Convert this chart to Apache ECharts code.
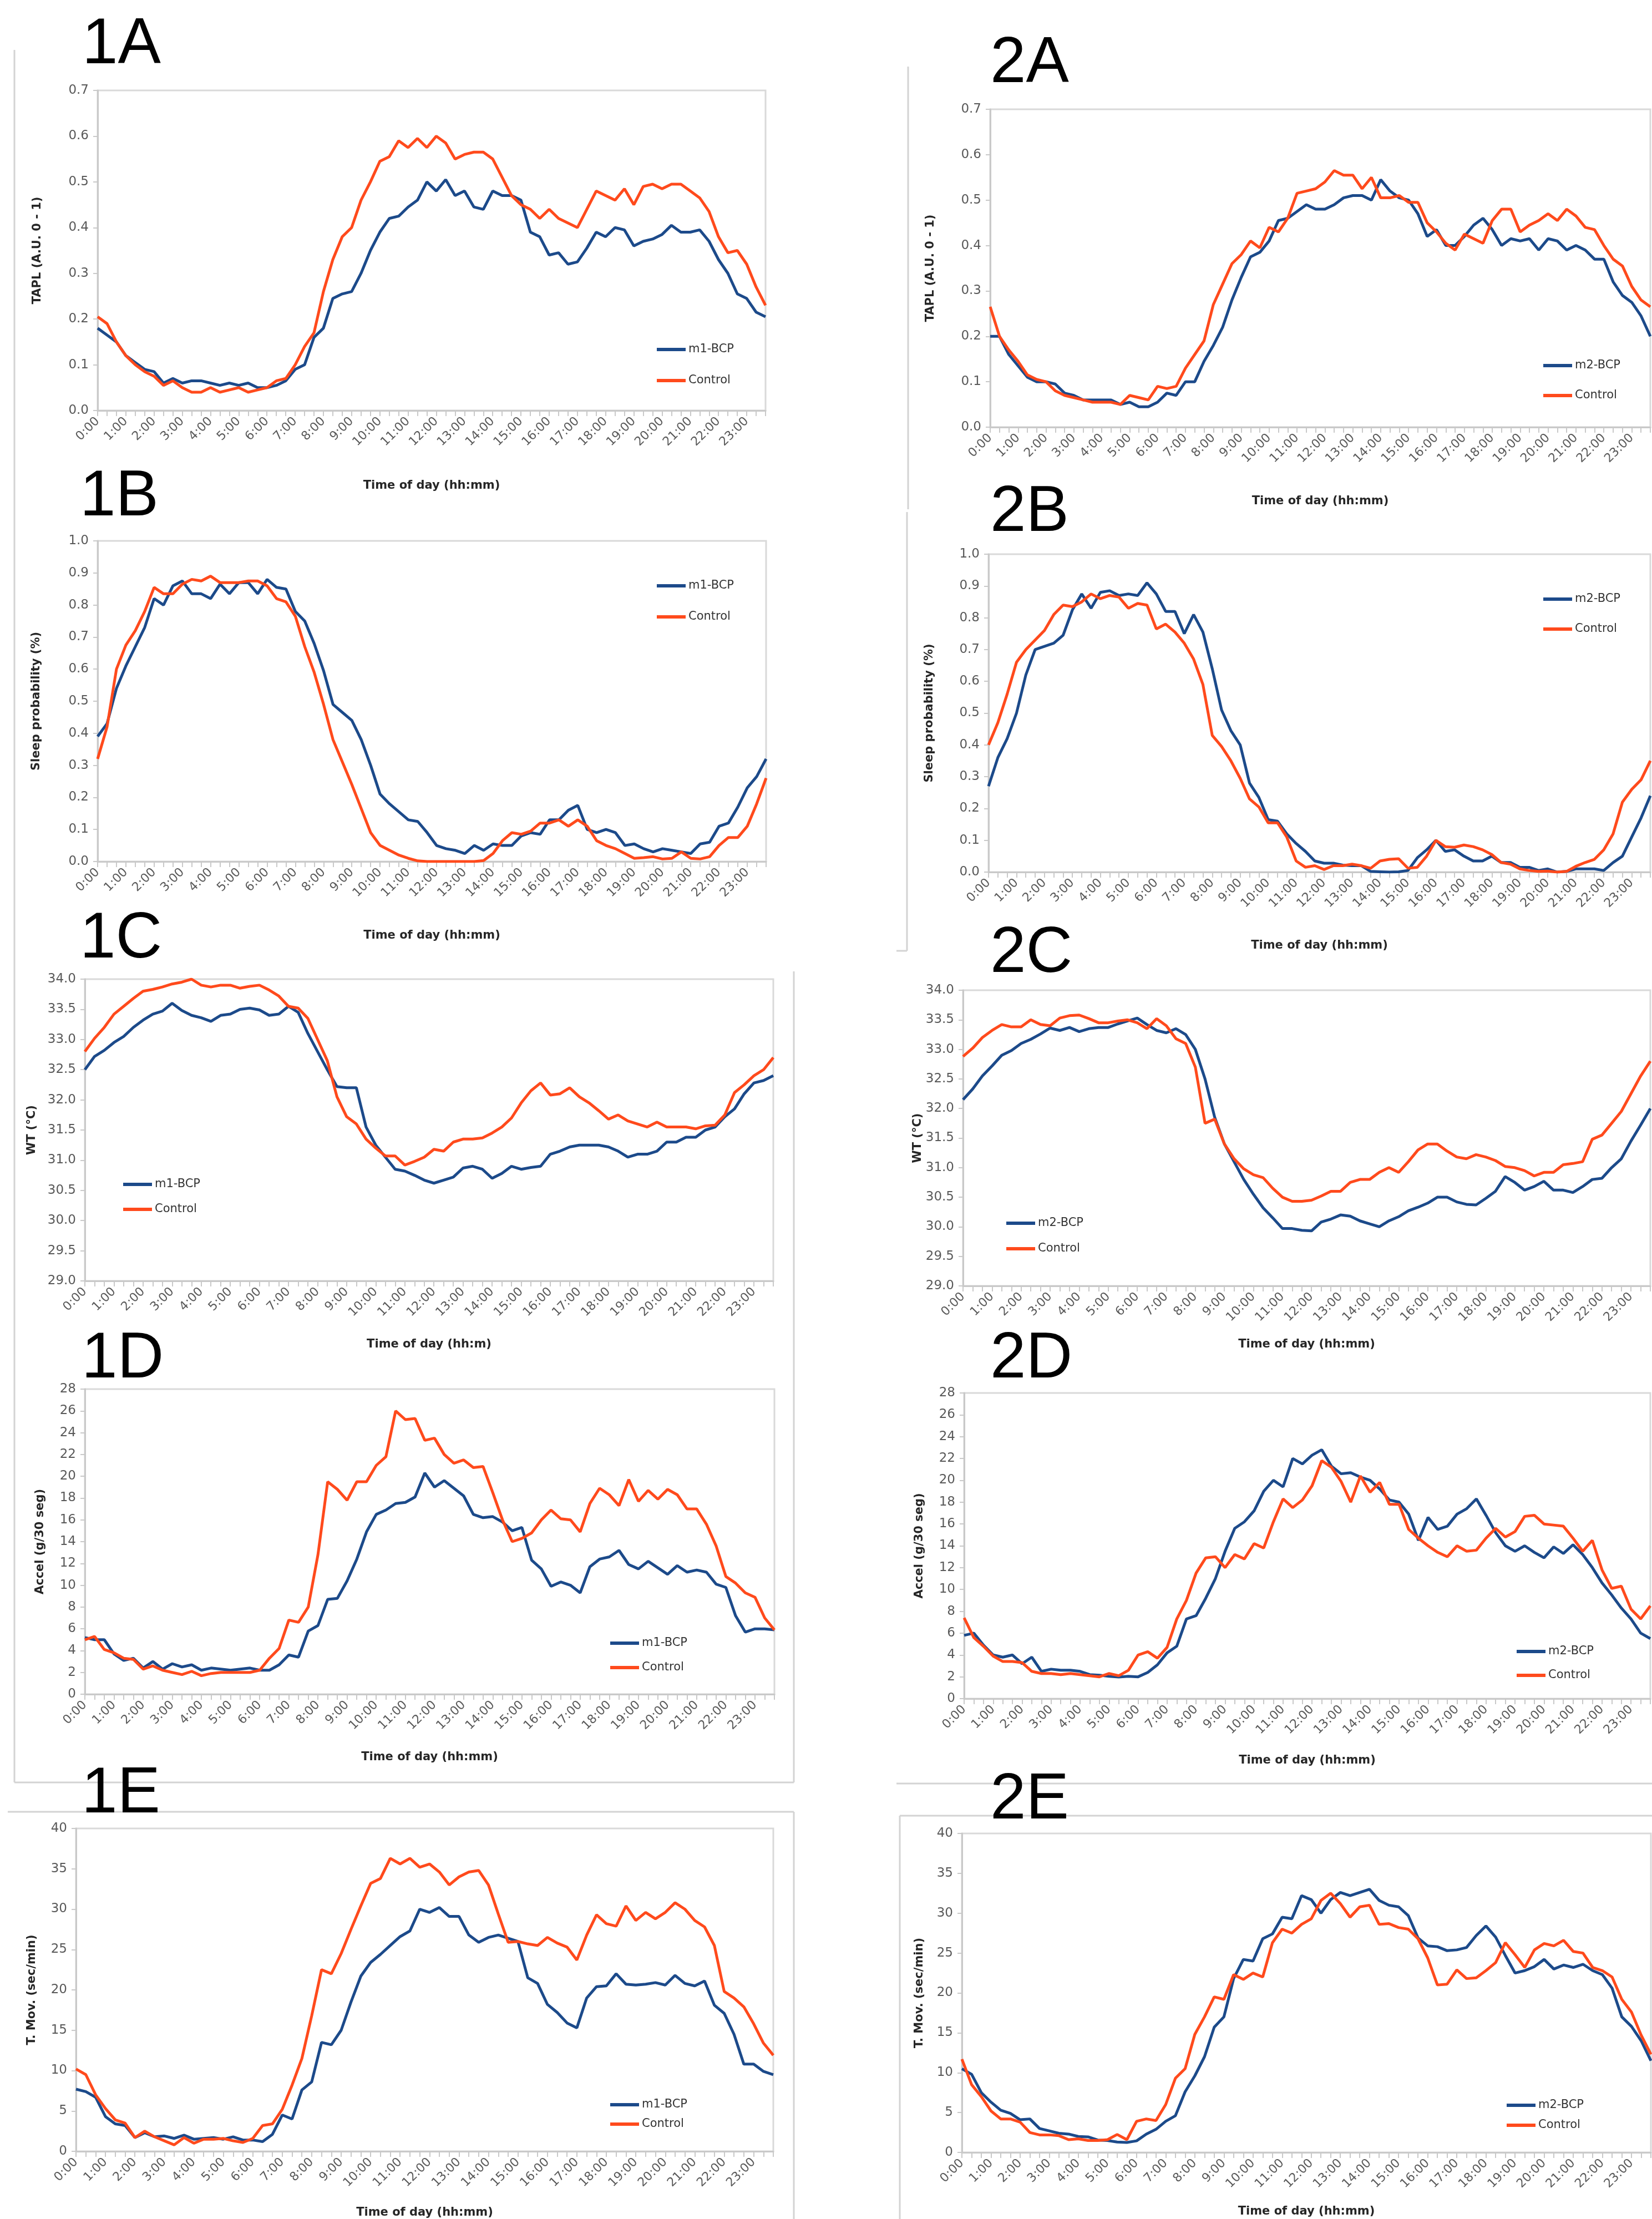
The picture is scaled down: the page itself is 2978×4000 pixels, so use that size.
<!DOCTYPE html>
<html>
<head>
<meta charset="utf-8">
<script src="https://cdn.jsdelivr.net/npm/echarts@6/dist/echarts.min.js"></script>
<style>
html,body{margin:0;padding:0;background:#fff;overflow:hidden;}
#main{width:2978px;height:4000px;}
</style>
</head>
<body>
<div id="main"></div>
<script>
// ---------- categories (20-min steps) ----------
const TIMES = ['0:00','0:20','0:40','1:00','1:20','1:40','2:00','2:20','2:40','3:00','3:20','3:40',
'4:00','4:20','4:40','5:00','5:20','5:40','6:00','6:20','6:40','7:00','7:20','7:40',
'8:00','8:20','8:40','9:00','9:20','9:40','10:00','10:20','10:40','11:00','11:20','11:40',
'12:00','12:20','12:40','13:00','13:20','13:40','14:00','14:20','14:40','15:00','15:20','15:40',
'16:00','16:20','16:40','17:00','17:20','17:40','18:00','18:20','18:40','19:00','19:20','19:40',
'20:00','20:20','20:40','21:00','21:20','21:40','22:00','22:20','22:40','23:00','23:20','23:40'];

// ---------- 1A / 2A : TAPL ----------
const tapl_m1 = [0.18,0.165,0.15,0.12,0.105,0.09,0.085,0.06,0.07,0.06,0.065,0.065,0.06,0.055,0.06,0.055,0.06,0.05,0.05,0.055,0.065,0.09,0.10,0.16,0.18,0.245,0.255,0.26,0.30,0.35,0.39,0.42,0.425,
0.445,0.46,0.50,0.48,0.505,0.47,0.48,0.445,0.44,0.48,0.47,0.47,0.46,0.39,0.38,0.34,0.345,0.32,0.325,0.355,0.39,0.38,0.40,0.395,0.36,0.37,0.375,0.385,0.405,0.39,0.39,0.395,0.37,0.33,0.30,0.255,0.245,0.215,0.205];
const tapl_ctrl1 = [0.205,0.19,0.15,0.12,0.10,0.085,0.075,0.055,0.065,0.05,0.04,0.04,0.05,0.04,0.045,0.05,0.04,0.045,0.05,0.065,0.07,0.10,0.14,0.17,0.26,
0.33,0.38,0.40,0.46,0.50,0.545,0.555,0.59,0.575,0.595,0.575,0.60,0.585,0.55,0.56,0.565,0.565,0.55,0.51,0.47,0.45,0.44,0.42,0.44,0.42,0.41,0.40,0.44,0.48,0.47,0.46,0.485,0.45,0.49,0.495,0.485,0.495,0.495,0.48,0.465,0.435,0.38,0.345,0.35,0.32,0.27,0.23];
const tapl_m2 = [0.20,0.20,0.16,0.135,0.11,0.10,0.10,0.095,0.075,0.07,0.06,0.06,0.06,0.06,0.05,0.055,0.045,0.045,0.055,0.075,
0.07,0.10,0.10,0.145,0.18,0.22,0.28,0.33,0.375,0.385,0.41,0.455,0.46,0.475,0.49,0.48,0.48,0.49,0.505,0.51,
0.51,0.50,0.545,0.52,0.505,0.50,0.47,0.42,0.435,0.40,0.40,0.42,0.445,0.46,0.435,0.40,0.415,0.41,0.415,0.39,
0.415,0.41,0.39,0.40,0.39,0.37,0.37,0.32,0.29,0.275,0.245,0.20];
const tapl_ctrl2 = [0.265,0.20,0.17,0.145,0.115,0.105,0.10,0.08,0.07,0.065,0.06,0.055,0.055,0.055,0.05,0.07,0.065,0.06,0.09,0.085,
0.09,0.13,0.16,0.19,0.27,0.315,0.36,0.38,0.41,0.395,0.44,0.43,0.46,0.515,0.52,0.525,0.54,0.565,0.555,0.555,
0.525,0.55,0.505,0.505,0.51,0.495,0.495,0.45,0.43,0.405,0.39,0.425,0.415,0.405,0.455,0.48,0.48,0.43,0.445,0.455,
0.47,0.455,0.48,0.465,0.44,0.435,0.40,0.37,0.355,0.31,0.28,0.265];

// ---------- 1B / 2B : sleep probability ----------
const sleep_m1 = [0.39,0.43,0.54,0.61,0.67,0.73,0.82,0.80,0.86,0.875,0.835,0.835,0.82,0.865,0.835,0.87,0.87,0.835,0.88,0.855,
0.85,0.78,0.75,0.68,0.595,0.49,0.465,0.44,0.38,0.30,0.21,0.18,0.155,0.13,0.125,0.09,0.05,0.04,0.035,0.025,
0.05,0.035,0.055,0.05,0.05,0.08,0.09,0.085,0.13,0.13,0.16,0.175,0.10,0.09,0.10,0.09,0.05,0.055,0.04,0.03,
0.04,0.035,0.03,0.025,0.055,0.06,0.11,0.12,0.17,0.23,0.265,0.32];
const sleep_ctrl1 = [0.32,0.42,0.60,0.675,0.72,0.78,0.855,0.835,0.835,0.865,0.88,0.875,0.89,0.87,0.87,0.87,0.875,0.875,0.86,0.82,
0.81,0.765,0.67,0.59,0.49,0.38,0.31,0.24,0.165,0.09,0.05,0.035,0.02,0.01,0.002,0,0,0,0,0,
0,0.003,0.025,0.065,0.09,0.085,0.095,0.12,0.12,0.13,0.11,0.13,0.11,0.065,0.05,0.04,0.025,0.01,0.012,0.015,
0.008,0.01,0.03,0.01,0.008,0.015,0.05,0.075,0.075,0.11,0.18,0.26];
const sleep_m2 = [0.27,0.36,0.42,0.50,0.62,0.70,0.71,0.72,0.745,0.825,0.875,0.83,0.88,0.885,0.87,0.875,0.87,0.91,0.875,0.82,
0.82,0.75,0.81,0.755,0.64,0.51,0.445,0.40,0.28,0.235,0.165,0.16,0.12,0.09,0.065,0.035,0.028,0.028,0.022,0.02,
0.02,0.002,0.001,0,0.001,0.005,0.045,0.07,0.10,0.065,0.07,0.05,0.035,0.035,0.05,0.03,0.03,0.015,0.015,0.005,
0.01,0,0.002,0.01,0.01,0.01,0.005,0.03,0.05,0.11,0.17,0.24];
const sleep_ctrl2 = [0.40,0.47,0.56,0.66,0.70,0.73,0.76,0.81,0.84,0.835,0.85,0.875,0.86,0.87,0.865,0.83,0.845,0.84,0.765,0.78,
0.755,0.72,0.67,0.59,0.43,0.395,0.35,0.295,0.23,0.205,0.155,0.155,0.11,0.035,0.015,0.02,0.008,0.02,0.02,0.025,
0.02,0.012,0.035,0.04,0.042,0.012,0.015,0.05,0.10,0.08,0.078,0.085,0.08,0.07,0.055,0.03,0.025,0.01,0.005,0.002,
0.003,0,0.002,0.018,0.03,0.04,0.07,0.12,0.22,0.26,0.29,0.35];

// ---------- 1C / 2C : wrist temperature ----------
const wt_m1 = [32.5,32.72,32.82,32.95,33.05,33.2,33.32,33.42,33.47,33.6,33.48,33.4,33.36,33.3,33.4,33.42,33.5,33.52,33.49,33.4,
33.42,33.55,33.45,33.1,32.8,32.5,32.22,32.2,32.2,31.55,31.25,31.05,30.85,30.82,30.75,30.67,30.62,30.67,30.72,30.87,
30.9,30.85,30.7,30.78,30.9,30.85,30.88,30.9,31.1,31.15,31.22,31.25,31.25,31.25,31.22,31.15,31.05,31.1,31.1,31.15,
31.3,31.3,31.38,31.38,31.5,31.55,31.72,31.85,32.1,32.28,32.32,32.4];
const wt_ctrl1 = [32.8,33.02,33.2,33.42,33.55,33.68,33.8,33.83,33.87,33.92,33.95,34.0,33.9,33.87,33.9,33.9,33.85,33.88,33.9,33.82,
33.72,33.55,33.52,33.35,33.0,32.65,32.05,31.72,31.6,31.35,31.2,31.07,31.07,30.92,30.98,31.05,31.18,31.15,31.3,31.35,
31.35,31.37,31.45,31.55,31.7,31.95,32.15,32.28,32.08,32.1,32.2,32.05,31.95,31.82,31.68,31.75,31.65,31.6,31.55,31.63,
31.55,31.55,31.55,31.52,31.57,31.58,31.75,32.12,32.25,32.4,32.5,32.7];
const wt_m2 = [32.15,32.33,32.55,32.72,32.9,32.98,33.1,33.17,33.26,33.36,33.32,33.37,33.3,33.35,33.37,33.37,33.43,33.48,33.53,33.42,
33.32,33.28,33.35,33.25,33.0,32.5,31.85,31.4,31.1,30.8,30.55,30.32,30.15,29.97,29.97,29.94,29.93,30.08,30.13,30.2,
30.18,30.1,30.05,30.0,30.1,30.17,30.27,30.33,30.4,30.5,30.5,30.42,30.38,30.37,30.48,30.6,30.85,30.75,30.62,30.68,
30.77,30.62,30.62,30.58,30.68,30.8,30.82,31.0,31.15,31.45,31.72,32.0];
const wt_ctrl2 = [32.88,33.02,33.2,33.32,33.42,33.38,33.38,33.5,33.42,33.4,33.53,33.57,33.58,33.52,33.45,33.45,33.48,33.5,33.45,33.35,
33.52,33.4,33.18,33.1,32.7,31.75,31.82,31.4,31.15,30.98,30.88,30.83,30.65,30.5,30.43,30.43,30.45,30.52,30.6,30.6,
30.75,30.8,30.8,30.92,31.0,30.92,31.1,31.3,31.4,31.4,31.28,31.18,31.15,31.22,31.18,31.12,31.02,31.0,30.95,30.86,
30.92,30.92,31.05,31.07,31.1,31.48,31.55,31.75,31.95,32.25,32.55,32.8];

// ---------- 1D / 2D : acceleration ----------
const accel_m1 = [5.2,5.0,5.0,3.7,3.1,3.3,2.4,3.0,2.3,2.8,2.5,2.7,2.2,2.4,2.3,2.2,2.3,2.4,2.2,2.2,
2.7,3.6,3.4,5.8,6.3,8.7,8.8,10.4,12.4,14.9,16.5,16.9,17.5,17.6,18.1,20.3,19.0,19.6,18.9,18.2,
16.5,16.2,16.3,15.8,15.0,15.3,12.3,11.5,9.9,10.3,10.0,9.3,11.7,12.4,12.6,13.2,11.9,11.5,12.2,11.6,
11.0,11.8,11.2,11.4,11.2,10.1,9.8,7.2,5.7,6.0,6.0,5.9];
const accel_ctrl1 = [5.0,5.3,4.1,3.8,3.3,3.2,2.3,2.6,2.2,2.0,1.8,2.1,1.7,1.9,2.0,2.0,2.0,2.0,2.2,3.3,
4.2,6.8,6.6,8.0,12.8,19.5,18.8,17.8,19.5,19.5,21.0,21.8,26.0,25.2,25.3,23.3,23.5,22.0,21.2,21.5,
20.8,20.9,18.5,16.0,14.0,14.3,14.8,16.0,16.9,16.1,16.0,14.9,17.5,18.9,18.3,17.3,19.7,17.7,18.7,17.9,
18.8,18.3,17.0,17.0,15.6,13.6,10.8,10.2,9.3,8.9,7.0,5.9];
const accel_m2 = [5.8,6.0,4.9,4.0,3.8,4.0,3.2,3.8,2.5,2.7,2.6,2.6,2.5,2.2,2.15,2.05,1.98,2.05,2.0,2.4,
3.1,4.2,4.8,7.3,7.6,9.2,11.0,13.5,15.6,16.2,17.2,19.0,20.0,19.4,22.0,21.5,22.3,22.8,21.3,20.6,
20.7,20.3,20.0,19.2,18.2,18.0,16.9,14.5,16.6,15.5,15.8,16.9,17.4,18.3,16.8,15.2,14.0,13.5,14.0,13.4,
12.9,13.9,13.3,14.1,13.2,12.0,10.6,9.5,8.3,7.3,6.0,5.5];
const accel_ctrl2 = [7.4,5.6,4.8,3.9,3.4,3.4,3.3,2.5,2.3,2.3,2.2,2.3,2.2,2.1,2.0,2.3,2.1,2.6,4.0,4.3,
3.7,4.7,7.3,9.0,11.5,12.9,13.0,12.0,13.2,12.8,14.2,13.8,16.2,18.3,17.5,18.2,19.5,21.8,21.2,19.9,
18.0,20.4,18.9,19.8,17.8,17.8,15.5,14.7,14.0,13.4,13.0,14.0,13.5,13.6,14.7,15.6,14.8,15.3,16.7,16.8,
16.0,15.9,15.8,14.7,13.5,14.5,11.8,10.1,10.3,8.2,7.3,8.5];

// ---------- 1E / 2E : time in movement ----------
const tmov_m1 = [7.7,7.4,6.7,4.3,3.4,3.2,1.7,2.3,1.8,1.9,1.6,2.0,1.5,1.6,1.7,1.5,1.8,1.4,1.4,1.2,
2.1,4.5,4.0,7.6,8.6,13.5,13.2,15.0,18.5,21.7,23.4,24.4,25.5,26.6,27.3,30.0,29.6,30.2,29.1,29.1,
26.8,25.9,26.5,26.8,26.4,26.0,21.5,20.8,18.2,17.2,15.9,15.3,19.0,20.4,20.5,22.0,20.7,20.6,20.7,20.9,
20.6,21.8,20.8,20.5,21.1,18.1,17.1,14.5,10.8,10.8,9.9,9.5];
const tmov_ctrl1 = [10.2,9.5,7.0,5.3,3.9,3.5,1.7,2.5,1.8,1.3,0.8,1.7,1.0,1.5,1.5,1.6,1.3,1.1,1.6,3.2,
3.4,5.2,8.2,11.5,16.8,22.5,22.0,24.5,27.5,30.4,33.2,33.8,36.3,35.6,36.3,35.2,35.6,34.6,33.0,34.0,
34.6,34.8,33.0,29.4,25.9,26.0,25.7,25.5,26.5,25.8,25.3,23.7,26.8,29.3,28.2,27.9,30.4,28.6,29.6,28.8,
29.6,30.8,30.0,28.6,27.8,25.5,19.8,19.0,17.9,15.8,13.4,11.9];
const tmov_m2 = [10.5,9.8,7.5,6.3,5.3,4.9,4.1,4.2,3.0,2.7,2.4,2.3,2.0,1.95,1.55,1.5,1.3,1.25,1.45,2.3,
2.9,3.9,4.6,7.6,9.6,12.0,15.7,17.0,21.8,24.2,24.0,26.8,27.4,29.5,29.3,32.2,31.7,30.0,31.7,32.6,
32.2,32.6,33.0,31.6,31.0,30.8,29.7,26.9,25.9,25.8,25.3,25.4,25.7,27.2,28.4,27.0,24.7,22.5,22.8,23.3,
24.2,23.0,23.5,23.2,23.6,22.8,22.3,20.6,17.0,15.8,14.0,11.5];
const tmov_ctrl2 = [11.7,8.5,7.0,5.2,4.2,4.2,3.8,2.5,2.2,2.2,2.1,1.6,1.7,1.5,1.5,1.6,2.25,1.6,3.9,4.2,
4.0,6.0,9.3,10.5,14.8,17.0,19.5,19.2,22.3,21.7,22.5,22.0,26.3,28.0,27.5,28.6,29.3,31.6,32.5,31.2,
29.5,30.8,31.0,28.6,28.7,28.2,28.0,26.8,24.4,21.0,21.1,22.9,21.8,21.9,22.8,23.8,26.3,24.8,23.2,25.4,
26.2,25.9,26.6,25.2,25.0,23.2,22.8,22.0,19.2,17.6,14.7,12.3];

// ---------- names / titles ----------
const NAMES_1 = ['m1-BCP','Control'];
const NAMES_2 = ['m2-BCP','Control'];
const X_TITLE = 'Time of day (hh:mm)';
const X_TITLE_1C = 'Time of day (hh:m)';
const Y_TITLES = {tapl:'TAPL (A.U. 0 - 1)', sleep:'Sleep probability (%)', wt:'WT (°C)', accel:'Accel (g/30 seg)', tmov:'T. Mov. (sec/min)'};

const BLUE = '#1c4a8a';
const ORANGE = '#ff4a1c';

// ---------- layout (pixels) ----------
const panels = [
 {lab:'1A', lx:148, ly:24, left:176, top:163, w:1204, h:577, min:0, max:0.7, step:0.1, dec:1, yt:Y_TITLES.tapl, yg:98, xt:X_TITLE, xg:125, s:[tapl_m1,tapl_ctrl1], n:NAMES_1, lg:[1184,618,32]},
 {lab:'2A', lx:1785, ly:58, left:1785, top:197, w:1190, h:573, min:0, max:0.7, step:0.1, dec:1, yt:Y_TITLES.tapl, yg:97, xt:X_TITLE, xg:123, s:[tapl_m2,tapl_ctrl2], n:NAMES_2, lg:[2782,647,30]},
 {lab:'1B', lx:144, ly:839, left:176, top:975, w:1205, h:578, min:0, max:1.0, step:0.1, dec:1, yt:Y_TITLES.sleep, yg:100, xt:X_TITLE, xg:123, s:[sleep_m1,sleep_ctrl1], n:NAMES_1, lg:[1184,1044,32]},
 {lab:'2B', lx:1785, ly:867, left:1782, top:999, w:1193, h:573, min:0, max:1.0, step:0.1, dec:1, yt:Y_TITLES.sleep, yg:96, xt:X_TITLE, xg:122, s:[sleep_m2,sleep_ctrl2], n:NAMES_2, lg:[2782,1068,30]},
 {lab:'1C', lx:144, ly:1636, left:153, top:1765, w:1241, h:544, min:29, max:34, step:0.5, dec:1, yt:Y_TITLES.wt, yg:85, xt:X_TITLE_1C, xg:104, s:[wt_m1,wt_ctrl1], n:NAMES_1, lg:[222,2123,21]},
 {lab:'2C', lx:1785, ly:1662, left:1736, top:1785, w:1239, h:533, min:29, max:34, step:0.5, dec:1, yt:Y_TITLES.wt, yg:71, xt:X_TITLE, xg:95, s:[wt_m2,wt_ctrl2], n:NAMES_2, lg:[1814,2193,22]},
 {lab:'1D', lx:147, ly:2393, left:153, top:2504, w:1243, h:550, min:0, max:28, step:2, dec:0, yt:Y_TITLES.accel, yg:70, xt:X_TITLE, xg:103, s:[accel_m1,accel_ctrl1], n:NAMES_1, lg:[1100,2950,20]},
 {lab:'2D', lx:1785, ly:2393, left:1738, top:2511, w:1237, h:551, min:0, max:28, step:2, dec:0, yt:Y_TITLES.accel, yg:70, xt:X_TITLE, xg:101, s:[accel_m2,accel_ctrl2], n:NAMES_2, lg:[2734,2965,19]},
 {lab:'1E', lx:147, ly:3177, left:137, top:3296, w:1257, h:582, min:0, max:40, step:5, dec:0, yt:Y_TITLES.tmov, yg:69, xt:X_TITLE, xg:100, s:[tmov_m1,tmov_ctrl1], n:NAMES_1, lg:[1100,3782,11]},
 {lab:'2E', lx:1785, ly:3188, left:1734, top:3305, w:1242, h:575, min:0, max:40, step:5, dec:0, yt:Y_TITLES.tmov, yg:66, xt:X_TITLE, xg:96, s:[tmov_m2,tmov_ctrl2], n:NAMES_2, lg:[2716,3783,12]}
];

const FONT = 'DejaVu Sans';
const AXIS_GREY = '#c9c9c9';
const grid = [], xAxis = [], yAxis = [], series = [], legend = [], graphic = [];

// thin grey frames around panel groups (drawn first, under the panel letters)
const frames = [
  [26,90,26,3213],[26,3213,1431,3213],[1431,1751,1431,3213],
  [14,3266,1431,3266],[1431,3266,1431,4000],
  [1637,120,1637,918],[1635,923,1635,1714],[1616,1714,1635,1714],
  [1616,3215,2978,3215],[1622,3273,2978,3273],[1622,3273,1622,4000]
];
frames.forEach(f => graphic.push({type:'line', shape:{x1:f[0],y1:f[1],x2:f[2],y2:f[3]},
  style:{stroke:'#d3d3d3', lineWidth:3}, silent:true, z:0}));

panels.forEach((p, i) => {
  grid.push({left:p.left, top:p.top, width:p.w, height:p.h, containLabel:false, outerBoundsMode:'none',
             show:true, borderColor:'#d9d9d9', borderWidth:3, backgroundColor:'#ffffff'});
  xAxis.push({type:'category', gridIndex:i, data:TIMES, boundaryGap:false,
    name:p.xt, nameLocation:'middle', nameGap:p.xg,
    nameTextStyle:{fontFamily:FONT, fontWeight:'bold', fontSize:21, color:'#262626'},
    axisLine:{show:true, lineStyle:{color:AXIS_GREY, width:3}},
    axisTick:{show:true, interval:0, length:10, lineStyle:{color:AXIS_GREY, width:2}},
    axisLabel:{interval:2, rotate:45, margin:16, fontFamily:FONT, fontSize:22, color:'#595959'},
    splitLine:{show:false}});
  yAxis.push({type:'value', gridIndex:i, min:p.min, max:p.max, interval:p.step,
    name:p.yt, nameLocation:'middle', nameGap:p.yg, nameRotate:90,
    nameTextStyle:{fontFamily:FONT, fontWeight:'bold', fontSize:21, color:'#262626'},
    axisLine:{show:true, lineStyle:{color:AXIS_GREY, width:3}},
    axisTick:{show:true, length:8, lineStyle:{color:AXIS_GREY, width:2}},
    axisLabel:{margin:16, fontFamily:FONT, fontSize:23, color:'#595959',
               formatter:(v) => v.toFixed(p.dec)},
    splitLine:{show:false}});
  const cols = [BLUE, ORANGE];
  p.s.forEach((arr, j) => {
    series.push({type:'line', name:p.n[j], xAxisIndex:i, yAxisIndex:i, data:arr,
      showSymbol:false, symbol:'none', smooth:false,
      lineStyle:{width:5, color:cols[j]}, itemStyle:{color:cols[j]}, z:2+j});
  });
  legend.push({data:p.n, orient:'vertical', left:p.lg[0], top:p.lg[1], itemGap:p.lg[2],
    itemWidth:52, itemHeight:6, icon:'rect', padding:0, selectedMode:false,
    textStyle:{fontFamily:FONT, fontSize:21, color:'#333', lineHeight:24}});
  graphic.push({type:'text', left:p.lx, top:p.ly, z:10,
    style:{text:p.lab, font:'116px "Liberation Sans", Arial, sans-serif', fill:'#000'}});
});

const chart = echarts.init(document.getElementById('main'), null, {renderer:'canvas', width:2978, height:4000});
chart.setOption({
  animation:false,
  backgroundColor:'#ffffff',
  grid, xAxis, yAxis, series, legend, graphic
});
</script>
</body>
</html>
